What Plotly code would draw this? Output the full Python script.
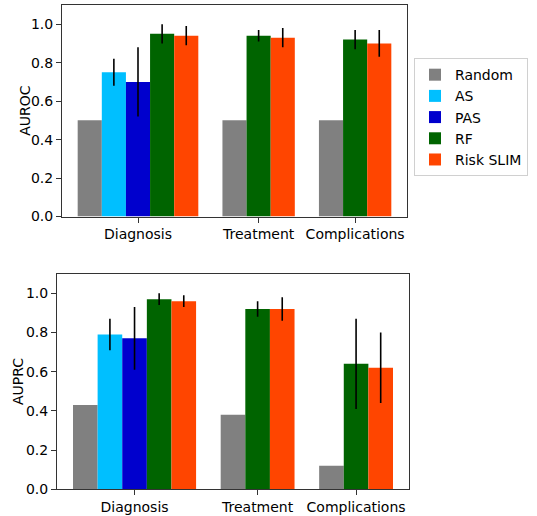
import plotly.graph_objects as go

categories = ["Diagnosis", "Treatment", "Complications"]
models = ["Random", "AS", "PAS", "RF", "Risk SLIM"]
colors = ["#808080", "#00BFFF", "#0000CD", "#006400", "#FF4500"]

auroc_random = [0.50, 0.50, 0.50]
auroc_as = [0.75, None, None]
auroc_pas = [0.70, None, None]
auroc_rf = [0.95, 0.94, 0.92]
auroc_slim = [0.94, 0.93, 0.90]

auroc_err_random = [None, None, None]
auroc_err_as = [0.07, None, None]
auroc_err_pas = [0.18, None, None]
auroc_err_rf = [0.05, 0.03, 0.05]
auroc_err_slim = [0.05, 0.05, 0.07]

auprc_random = [0.43, 0.38, 0.12]
auprc_as = [0.79, None, None]
auprc_pas = [0.77, None, None]
auprc_rf = [0.97, 0.92, 0.64]
auprc_slim = [0.96, 0.92, 0.62]

auprc_err_random = [None, None, None]
auprc_err_as = [0.08, None, None]
auprc_err_pas = [0.16, None, None]
auprc_err_rf = [0.03, 0.04, 0.23]
auprc_err_slim = [0.03, 0.06, 0.18]

yticks = [0.0, 0.2, 0.4, 0.6, 0.8, 1.0]
ytitles = ["AUROC", "AUPRC"]

auroc = [auroc_random, auroc_as, auroc_pas, auroc_rf, auroc_slim]
auroc_err = [auroc_err_random, auroc_err_as, auroc_err_pas, auroc_err_rf, auroc_err_slim]
auprc = [auprc_random, auprc_as, auprc_pas, auprc_rf, auprc_slim]
auprc_err = [auprc_err_random, auprc_err_as, auprc_err_pas, auprc_err_rf, auprc_err_slim]

# slot positions: consecutive bars per category, one empty slot between categories
def slots(values):
    pos = {}
    centers = []
    s = 0
    for ci in range(len(categories)):
        present = [mi for mi in range(len(models)) if values[mi][ci] is not None]
        start = s
        for mi in present:
            pos[(mi, ci)] = s
            s += 1
        centers.append((start + s - 1) / 2)
        s += 1
    return pos, centers, s - 1

fig = go.Figure()

def add_panel(values, errs, xa, ya, showlegend):
    pos, centers, nslots = slots(values)
    for mi, m in enumerate(models):
        xs, ys, es = [], [], []
        for ci in range(len(categories)):
            if values[mi][ci] is not None:
                xs.append(pos[(mi, ci)])
                ys.append(values[mi][ci])
                es.append(errs[mi][ci] if errs[mi][ci] is not None else 0)
        has_err = any(e > 0 for e in es)
        fig.add_trace(go.Bar(
            x=xs, y=ys, width=1, name=m, legendgroup=m, showlegend=showlegend,
            marker=dict(color=colors[mi], line=dict(width=0)),
            error_y=dict(type="data", array=es, visible=has_err, color="black",
                         thickness=1.6, width=0),
            xaxis=xa, yaxis=ya,
        ))
    return centers, nslots

c1, n1 = add_panel(auroc, auroc_err, "x", "y", True)
c2, n2 = add_panel(auprc, auprc_err, "x2", "y2", False)

axis_common = dict(showline=True, mirror=True, linecolor="#333", linewidth=1,
                   ticks="outside", ticklen=5, tickcolor="#333", showgrid=False,
                   zeroline=False, tickfont=dict(size=14, color="black"))

W, H = 537, 516

fig.update_layout(
    width=W, height=H,
    margin=dict(l=0, r=0, t=0, b=0),
    paper_bgcolor="white", plot_bgcolor="white",
    font=dict(family="DejaVu Sans", size=14, color="black"),
    barmode="overlay",
    xaxis=dict(domain=[62/W, 407/W], range=[-1.15, n1 + 0.15], anchor="y",
               tickvals=c1, ticktext=categories, **axis_common),
    yaxis=dict(domain=[1-220/H, 1-5/H], range=[0, 1.1], anchor="x",
               tickvals=yticks, tickformat=".1f", **axis_common),
    xaxis2=dict(domain=[57/W, 409/W], range=[-1.15, n2 + 0.15], anchor="y2",
                tickvals=c2, ticktext=categories, **axis_common),
    yaxis2=dict(domain=[1-497/H, 1-278/H], range=[0, 1.1], anchor="x2",
                tickvals=yticks, tickformat=".1f", **axis_common),
    legend=dict(x=414/W, y=1-59/H, xanchor="left", yanchor="top",
                bordercolor="#d0d0d0", borderwidth=1, bgcolor="white",
                font=dict(size=14), tracegroupgap=0, itemsizing="constant"),
    annotations=[
        dict(text=ytitles[0], xref="paper", yref="paper", x=25/W, y=1-112.5/H,
             textangle=-90, showarrow=False, xanchor="center", yanchor="middle",
             font=dict(size=14)),
        dict(text=ytitles[1], xref="paper", yref="paper", x=18.5/W, y=1-387.5/H,
             textangle=-90, showarrow=False, xanchor="center", yanchor="middle",
             font=dict(size=14)),
    ],
)

fig.write_html("out.html", config={"displayModeBar": False},
               post_script="document.body.style.margin='0';document.body.style.overflow='hidden';")
